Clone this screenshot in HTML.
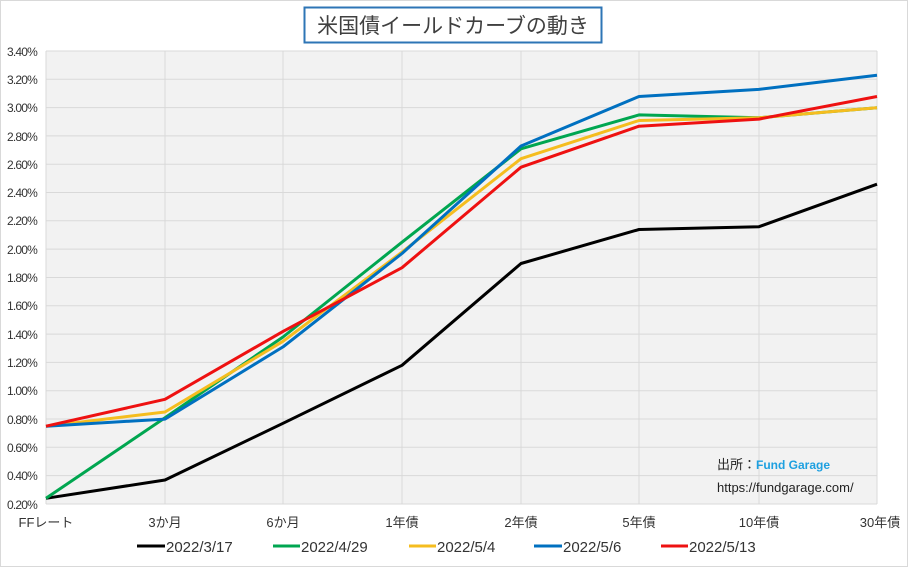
<!DOCTYPE html>
<html><head><meta charset="utf-8"><style>
body{margin:0;background:#fff;}
svg{display:block;font-family:"Liberation Sans","Noto Sans CJK JP",sans-serif;}
</style></head><body>
<svg width="908" height="567" viewBox="0 0 908 567">
<rect x="0.5" y="0.5" width="907" height="566" fill="#fff" stroke="#d9d9d9"/>
<rect x="46" y="51" width="831" height="453" fill="#f2f2f2"/>
<g stroke="#d9d9d9" stroke-width="1">
<line x1="46" x2="877" y1="51" y2="51"/><line x1="46" x2="877" y1="79.3" y2="79.3"/><line x1="46" x2="877" y1="107.6" y2="107.6"/><line x1="46" x2="877" y1="135.9" y2="135.9"/><line x1="46" x2="877" y1="164.2" y2="164.2"/><line x1="46" x2="877" y1="192.5" y2="192.5"/><line x1="46" x2="877" y1="220.8" y2="220.8"/><line x1="46" x2="877" y1="249.1" y2="249.1"/><line x1="46" x2="877" y1="277.5" y2="277.5"/><line x1="46" x2="877" y1="305.8" y2="305.8"/><line x1="46" x2="877" y1="334.1" y2="334.1"/><line x1="46" x2="877" y1="362.4" y2="362.4"/><line x1="46" x2="877" y1="390.7" y2="390.7"/><line x1="46" x2="877" y1="419" y2="419"/><line x1="46" x2="877" y1="447.3" y2="447.3"/><line x1="46" x2="877" y1="475.6" y2="475.6"/><line x1="46" x2="877" y1="504" y2="504"/>
<line x1="46" x2="46" y1="51" y2="504"/><line x1="165" x2="165" y1="51" y2="504"/><line x1="283" x2="283" y1="51" y2="504"/><line x1="402" x2="402" y1="51" y2="504"/><line x1="521" x2="521" y1="51" y2="504"/><line x1="639" x2="639" y1="51" y2="504"/><line x1="759" x2="759" y1="51" y2="504"/><line x1="877" x2="877" y1="51" y2="504"/>
</g>
<g font-size="12" fill="#333" text-anchor="end" letter-spacing="-0.8">
<text x="37" y="56">3.40%</text><text x="37" y="84">3.20%</text><text x="37" y="112">3.00%</text><text x="37" y="141">2.80%</text><text x="37" y="169">2.60%</text><text x="37" y="197">2.40%</text><text x="37" y="225">2.20%</text><text x="37" y="254">2.00%</text><text x="37" y="282">1.80%</text><text x="37" y="310">1.60%</text><text x="37" y="339">1.40%</text><text x="37" y="367">1.20%</text><text x="37" y="395">1.00%</text><text x="37" y="424">0.80%</text><text x="37" y="452">0.60%</text><text x="37" y="480">0.40%</text><text x="37" y="509">0.20%</text>
</g>
<g font-size="13" fill="#333" text-anchor="middle">
<text x="46" y="527">FFレート</text><text x="165" y="527">3か月</text><text x="283" y="527">6か月</text><text x="402" y="527">1年債</text><text x="521" y="527">2年債</text><text x="639" y="527">5年債</text><text x="759" y="527">10年債</text><text x="880" y="527">30年債</text>
</g>
<g fill="none" stroke-width="3" stroke-linejoin="round">
<polyline stroke="#000" points="46,498.3 165,480 283,423.3 402,365.3 521,263.5 639,229.5 759,226.7 877,184.2"/>
<polyline stroke="#00a650" points="46,498.3 165,417.7 283,337 402,242.2 521,148.8 639,114.9 759,117.7 877,107.8"/>
<polyline stroke="#f5bd1f" points="46,426.2 165,412 283,341.3 402,252.1 521,158.7 639,120.5 759,117.7 877,107.8"/>
<polyline stroke="#0070c0" points="46,426.2 165,419.1 283,346.9 402,253.5 521,146 639,96.5 759,89.4 877,75.3"/>
<polyline stroke="#ee1111" points="46,426.2 165,399.3 283,331.4 402,267.7 521,167.2 639,126.2 759,119.1 877,96.5"/>
</g>
<rect x="304.5" y="7.5" width="297" height="35" fill="#fff" stroke="#2e75b6" stroke-width="2"/>
<text x="453" y="33" font-size="21" fill="#404040" text-anchor="middle">米国債イールドカーブの動き</text>
<text x="717" y="469" font-size="13" fill="#222">出所：<tspan fill="#1ea0e0" font-weight="bold" font-size="12">Fund Garage</tspan></text>
<text x="717" y="492" font-size="13" fill="#222">https://fundgarage.com/</text>
<g font-size="15" fill="#333">
<line x1="137" x2="165" y1="546" y2="546" stroke="#000" stroke-width="3"/><text x="166" y="552">2022/3/17</text>
<line x1="273" x2="300" y1="546" y2="546" stroke="#00a650" stroke-width="3"/><text x="301" y="552">2022/4/29</text>
<line x1="409" x2="436" y1="546" y2="546" stroke="#f5bd1f" stroke-width="3"/><text x="437" y="552">2022/5/4</text>
<line x1="534" x2="562" y1="546" y2="546" stroke="#0070c0" stroke-width="3"/><text x="563" y="552">2022/5/6</text>
<line x1="661" x2="688" y1="546" y2="546" stroke="#ee1111" stroke-width="3"/><text x="689" y="552">2022/5/13</text>
</g>
</svg>
</body></html>
